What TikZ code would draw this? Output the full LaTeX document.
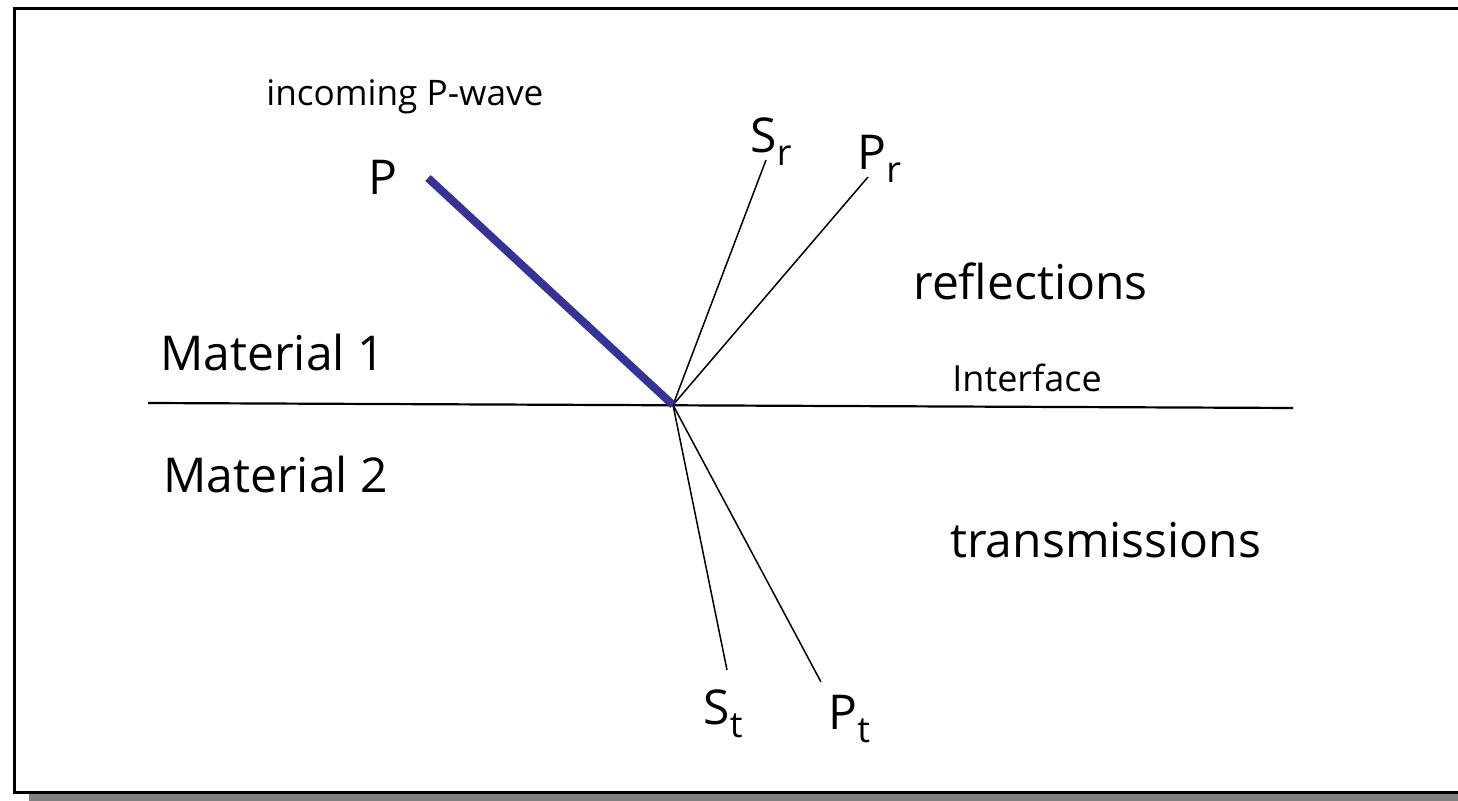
\documentclass[tikz,border=0pt]{standalone}
\usepackage{fontspec}
\setmainfont{Open Sans}
\definecolor{wavecol}{RGB}{51,51,153}
\newcommand{\wsub}[1]{\raisebox{-0.5ex}{\fontsize{18}{20}\selectfont #1}}
\begin{document}
\begin{tikzpicture}[x=0.5pt,y=-0.5pt,
  lbl/.style={anchor=base west,inner sep=0pt,font=\fontsize{24}{28}\selectfont},
  mid/.style={anchor=base west,inner sep=0pt,font=\fontsize{17.6}{21}\selectfont},
  small/.style={anchor=base west,inner sep=0pt,font=\fontsize{18}{20}\selectfont},
  ray/.style={line width=0.75pt},
  incident/.style={line width=4pt,wavecol}]
\useasboundingbox (0,0) rectangle (1458,801);
% frame with shadow
\fill[gray] (29,794) rectangle (1458,801);
\draw[line width=1.5pt] (1458,9) -- (14,9) -- (14,793) -- (1458,793);

% interface
\coordinate (ifl) at (148,403);
\coordinate (ifr) at (1293,408);
\draw[line width=1.1pt] (ifl) -- (ifr);

\coordinate (hit) at (673,405);
\coordinate (pin) at (428,178);
\coordinate (srend) at (766,160);
\coordinate (prend) at (868,177);
\coordinate (stend) at (727,670);
\coordinate (ptend) at (821,682);

\draw[ray] (hit) -- (srend);
\draw[ray] (hit) -- (prend);
\draw[ray] (hit) -- (stend);
\draw[ray] (hit) -- (ptend);
\draw[incident] (pin) -- (hit);

% labels
\node[mid] (inc) at (266,106) {incoming P-wave};
\node[lbl] (p) at (368,195) {P};
\node[lbl] (sr) at (750,153) {S\wsub{r}};
\node[lbl] (pr) at (857,170) {P\wsub{r}};
\node[lbl] (refl) at (913,300) {reflections};
\node[lbl] (mat1) at (160,371) {Material 1};
\node[small] (iface) at (952,392) {Interface};
\node[lbl] (mat2) at (163,493) {Material 2};
\node[lbl] (trans) at (950,558) {transmissions};
\node[lbl] (st) at (703,725) {S\wsub{t}};
\node[lbl] (pt) at (828,730) {P\wsub{t}};
\end{tikzpicture}
\end{document}
